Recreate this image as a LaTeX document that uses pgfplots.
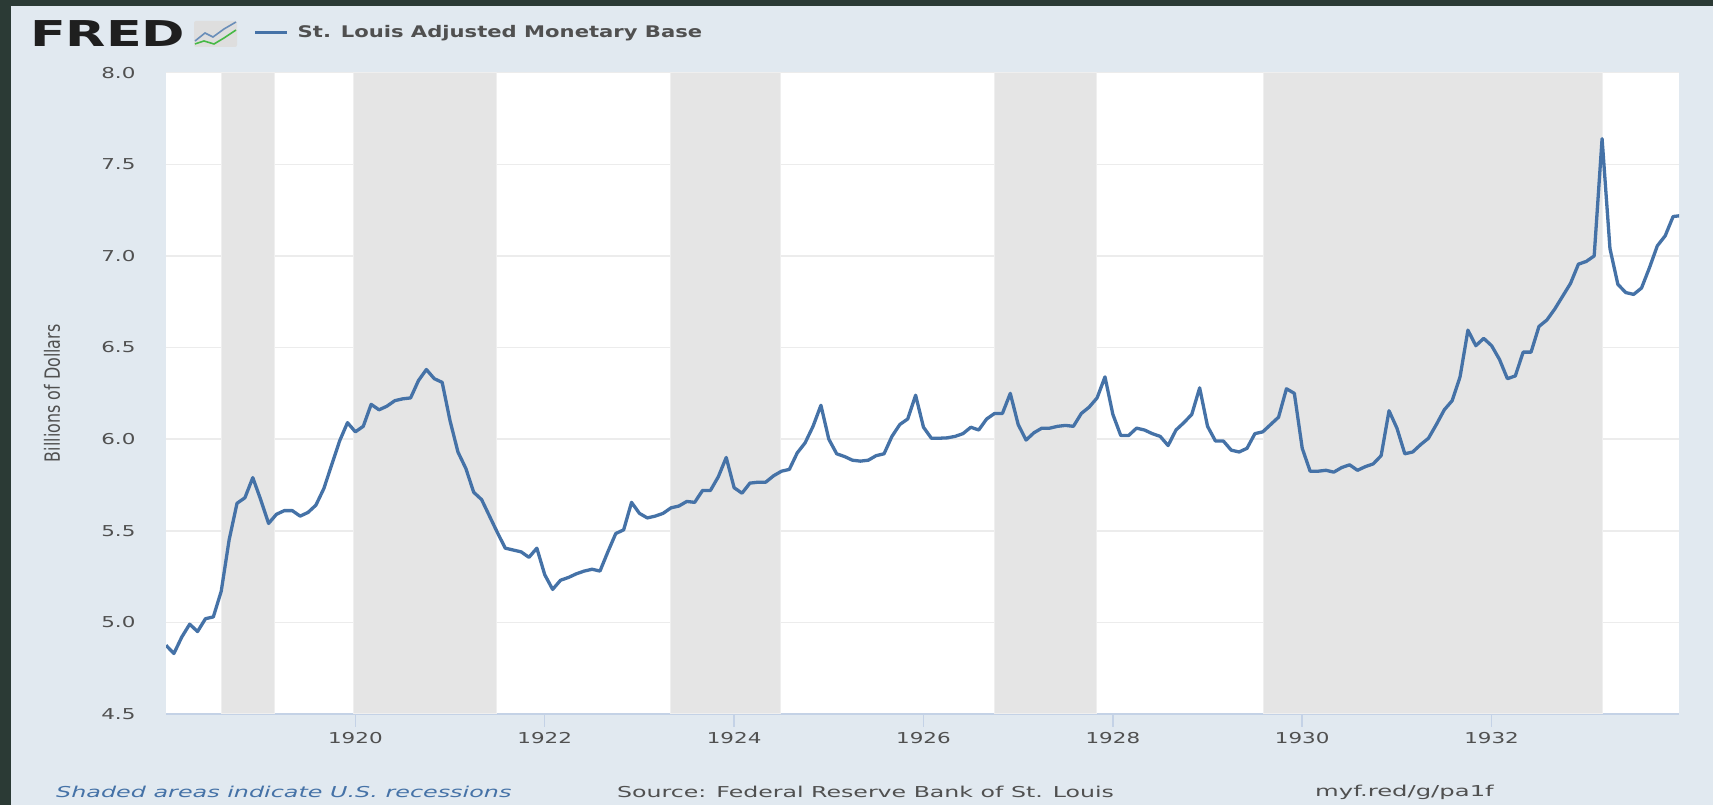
\documentclass[border=0pt]{standalone}
\usepackage{fontspec}
\setmainfont{DejaVu Sans}
\usepackage{pgfplots}
\usepackage{pgfplotstable}
\pgfplotsset{compat=1.18}
\definecolor{panel}{HTML}{E1E9F0}
\definecolor{darkbg}{HTML}{2B3A35}
\definecolor{rec}{HTML}{E5E5E5}
\definecolor{recedge}{HTML}{EFEFEF}
\definecolor{gridc}{HTML}{ECECEC}
\definecolor{fredline}{HTML}{4572A7}
\definecolor{tickc}{HTML}{C4D2E6}
\definecolor{txt}{HTML}{505050}
\newcommand{\sx}[1]{\scalebox{1.43}[1]{\fontsize{15}{18}\selectfont #1}}
\pgfplotstableread{
m v
0 4.875
1 4.83
2 4.92
3 4.99
4 4.95
5 5.02
6 5.03
7 5.17
8 5.45
9 5.65
10 5.68
11 5.79
12 5.67
13 5.54
14 5.59
15 5.61
16 5.61
17 5.58
18 5.60
19 5.64
20 5.73
21 5.86
22 5.99
23 6.09
24 6.04
25 6.07
26 6.19
27 6.16
28 6.18
29 6.21
30 6.22
31 6.225
32 6.32
33 6.38
34 6.33
35 6.31
36 6.10
37 5.93
38 5.84
39 5.71
40 5.67
41 5.58
42 5.49
43 5.405
44 5.395
45 5.385
46 5.355
47 5.405
48 5.26
49 5.18
50 5.23
51 5.245
52 5.265
53 5.28
54 5.29
55 5.28
56 5.385
57 5.485
58 5.505
59 5.655
60 5.595
61 5.57
62 5.58
63 5.595
64 5.625
65 5.635
66 5.66
67 5.655
68 5.72
69 5.72
70 5.795
71 5.90
72 5.735
73 5.705
74 5.76
75 5.765
76 5.765
77 5.80
78 5.825
79 5.835
80 5.925
81 5.98
82 6.07
83 6.185
84 6.00
85 5.92
86 5.905
87 5.885
88 5.88
89 5.885
90 5.91
91 5.92
92 6.015
93 6.08
94 6.11
95 6.24
96 6.065
97 6.005
98 6.005
99 6.007
100 6.015
101 6.03
102 6.065
103 6.05
104 6.11
105 6.14
106 6.14
107 6.25
108 6.08
109 5.995
110 6.035
111 6.06
112 6.06
113 6.07
114 6.075
115 6.07
116 6.14
117 6.175
118 6.225
119 6.34
120 6.135
121 6.02
122 6.02
123 6.06
124 6.05
125 6.03
126 6.015
127 5.965
128 6.05
129 6.09
130 6.135
131 6.28
132 6.07
133 5.99
134 5.99
135 5.94
136 5.93
137 5.95
138 6.03
139 6.04
140 6.08
141 6.12
142 6.275
143 6.25
144 5.95
145 5.825
146 5.825
147 5.83
148 5.82
149 5.845
150 5.86
151 5.83
152 5.85
153 5.865
154 5.91
155 6.155
156 6.06
157 5.92
158 5.93
159 5.97
160 6.005
161 6.08
162 6.16
163 6.21
164 6.34
165 6.595
166 6.51
167 6.55
168 6.51
169 6.435
170 6.33
171 6.345
172 6.475
173 6.475
174 6.615
175 6.65
176 6.71
177 6.78
178 6.85
179 6.955
180 6.97
181 7.00
182 7.64
183 7.04
184 6.845
185 6.80
186 6.79
187 6.825
188 6.935
189 7.055
190 7.11
191 7.215
192 7.22
}\basetable
\begin{document}
\begin{tikzpicture}[x=1pt,y=1pt]
\fill[darkbg] (0,0) rectangle (1713,805);
\fill[panel] (11,0) rectangle (1713,799);
\begin{axis}[
  at={(166pt,91pt)}, anchor=south west,
  scale only axis, width=1513pt, height=641.3pt,
  xmin=0, xmax=191.75, ymin=4.5, ymax=8,
  axis background/.style={fill=white},
  axis x line*=bottom, axis y line*=left,
  x axis line style={draw=tickc, line width=1.5pt, -},
  y axis line style={draw=none},
  xtick={24,48,72,96,120,144,168},
  xticklabels={\sx{1920},\sx{1922},\sx{1924},\sx{1926},\sx{1928},\sx{1930},\sx{1932}},
  ytick={4.5,5,5.5,6,6.5,7,7.5,8},
  yticklabels={\sx{4.5},\sx{5.0},\sx{5.5},\sx{6.0},\sx{6.5},\sx{7.0},\sx{7.5},\sx{8.0}},
  tick align=outside, major tick length=13pt,
  xtick style={draw=tickc, line width=1.5pt},
  ytick style={draw=none},
  ymajorgrids, grid style={draw=gridc, line width=1.5pt},
  xticklabel style={text=txt, anchor=center, yshift=-11pt},
  yticklabel style={text=txt, anchor=east, xshift=-14pt},
  ylabel={\scalebox{1.06}[1.4]{\fontsize{15}{18}\selectfont Billions of Dollars}},
  ylabel style={at={(axis description cs:-0.0753,0.5)}, anchor=center, text=txt},
  clip=true,
]
\addplot[fill=rec, draw=recedge, line width=1pt] coordinates {(7,4.5)(13.8,4.5)(13.8,8)(7,8)} -- cycle;
\addplot[fill=rec, draw=recedge, line width=1pt] coordinates {(23.8,4.5)(41.85,4.5)(41.85,8)(23.8,8)} -- cycle;
\addplot[fill=rec, draw=recedge, line width=1pt] coordinates {(63.9,4.5)(77.9,4.5)(77.9,8)(63.9,8)} -- cycle;
\addplot[fill=rec, draw=recedge, line width=1pt] coordinates {(105,4.5)(117.9,4.5)(117.9,8)(105,8)} -- cycle;
\addplot[fill=rec, draw=recedge, line width=1pt] coordinates {(139.1,4.5)(182,4.5)(182,8)(139.1,8)} -- cycle;
\addplot[fredline, line width=3.3pt, line join=round, no marks] table[x=m,y=v] {\basetable};
\end{axis}
% header
\node[anchor=base west, inner sep=0pt, text=black!88] at (30,758.5) {\scalebox{1.47}[1]{\fontsize{35.6}{38}\selectfont\bfseries FRED}};
\fill[rounded corners=2pt, black!13] (194,758) rectangle (237,784);
\draw[fredline!80, line width=1.6pt] (195,764)--(205,772)--(213,768)--(224,776)--(236,783);
\draw[green!45!gray, line width=1.6pt] (195,761)--(204,764)--(214,761)--(224,767)--(236,775);
\draw[fredline, line width=3pt] (255,772.5)--(287,772.5);
\node[anchor=west, inner sep=0pt, text=txt] at (297.5,772) {\scalebox{1.32}[1]{\fontsize{16}{18}\selectfont\bfseries St. Louis Adjusted Monetary Base}};
% footer
\node[anchor=west, inner sep=0pt, text=fredline] at (56,13) {\scalebox{1.59}[1]{\fontsize{15}{18}\selectfont\itshape Shaded areas indicate U.S. recessions}};
\node[anchor=west, inner sep=0pt, text=txt] at (617,13) {\scalebox{1.577}[1]{\fontsize{15}{18}\selectfont Source: Federal Reserve Bank of St. Louis}};
\node[anchor=west, inner sep=0pt, text=txt] at (1315,13) {\scalebox{1.62}[1]{\fontsize{15}{18}\selectfont myf.red/g/pa1f}};
\end{tikzpicture}
\end{document}
